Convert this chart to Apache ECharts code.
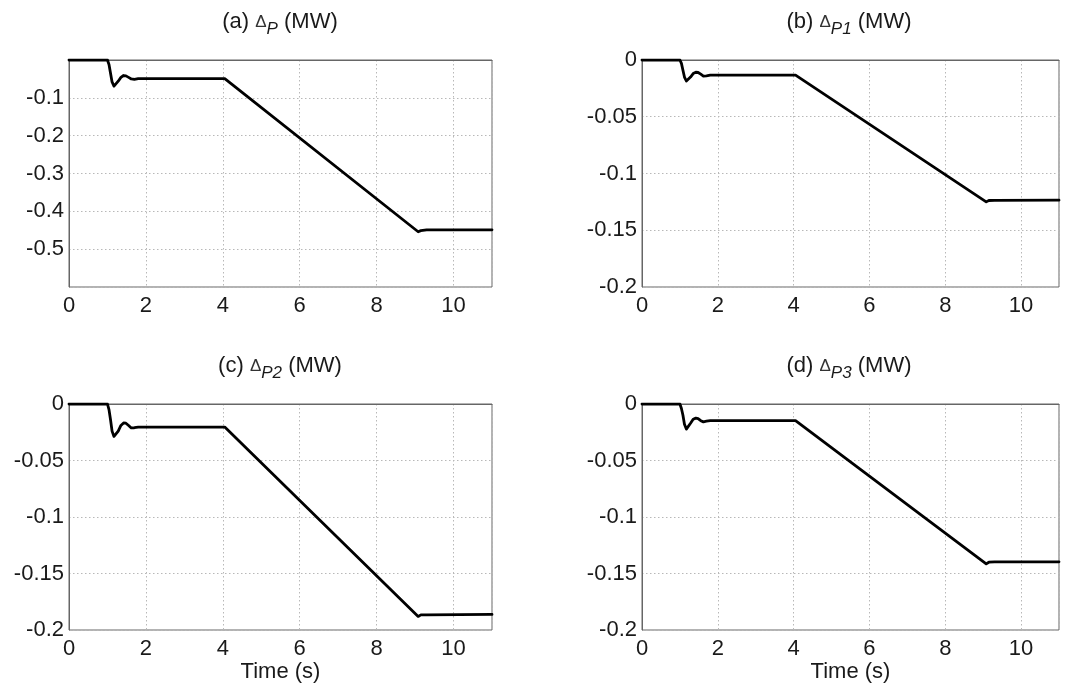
<!DOCTYPE html>
<html>
<head>
<meta charset="utf-8">
<script src="https://cdn.jsdelivr.net/npm/echarts@6/dist/echarts.min.js"></script>
<style>
html,body{margin:0;padding:0;background:#fff;}
#chart{width:1088px;height:691px;}
</style>
</head>
<body>
<div id="chart"></div>
<script>
// Time samples (s)
const timeS = [0, 1.0, 1.04, 1.08, 1.12, 1.17, 1.22, 1.28, 1.35, 1.42, 1.48, 1.55, 1.62, 1.7, 1.8, 2.0, 4.05, 9.08, 9.15, 9.3, 11];
// (a) ΔP (MW)
const deltaP  = [0, 0, -0.012, -0.035, -0.058, -0.069, -0.066, -0.056, -0.046, -0.041, -0.042, -0.046, -0.050, -0.051, -0.049, -0.049, -0.049, -0.454, -0.451, -0.449, -0.449];
// (b) ΔP1 (MW)
const deltaP1 = [0, 0, -0.003, -0.009, -0.015, -0.0185, -0.018, -0.015, -0.012, -0.0108, -0.011, -0.0125, -0.0142, -0.0140, -0.0134, -0.0133, -0.0133, -0.1250, -0.1238, -0.1236, -0.1235];
// (c) ΔP2 (MW)
const deltaP2 = [0, 0, -0.005, -0.014, -0.024, -0.0287, -0.028, -0.024, -0.019, -0.0168, -0.017, -0.019, -0.0212, -0.0210, -0.0205, -0.0204, -0.0204, -0.1880, -0.1866, -0.1866, -0.1862];
// (d) ΔP3 (MW)
const deltaP3 = [0, 0, -0.004, -0.010, -0.018, -0.0222, -0.021, -0.017, -0.0135, -0.0125, -0.013, -0.0148, -0.0158, -0.0152, -0.0148, -0.0148, -0.0148, -0.1415, -0.1400, -0.1398, -0.1397];

const panelLetters = ['a', 'b', 'c', 'd'];
const panelSubs = ['P', 'P1', 'P2', 'P3'];
const panelData = [deltaP, deltaP1, deltaP2, deltaP3];
const yMins = [-0.6, -0.2, -0.2, -0.2];
const yIntervals = [0.1, 0.05, 0.05, 0.05];
const xTicks = [0, 2, 4, 6, 8, 10];
const xLabelName = 'Time (s)';

const FONT = '"Liberation Sans", Arial, Helvetica, sans-serif';
const TXT = '#1a1a1a';
const AX = '#666';
const FS = 22;

const grids = [
  {left: 69, top: 60, width: 423, height: 227},
  {left: 642, top: 60, width: 417, height: 227},
  {left: 69, top: 404, width: 423, height: 226},
  {left: 642, top: 404, width: 417, height: 226}
];
const titlePos = [
  {left: 280, top: 6},
  {left: 849, top: 6},
  {left: 280, top: 350},
  {left: 849, top: 350}
];

const chart = echarts.init(document.getElementById('chart'), null, {renderer: 'canvas'});

const xAxes = [], yAxes = [], series = [], titles = [];
grids.forEach((g, i) => {
  const fmtY = (v) => {
    if (i === 0 && (Math.abs(v) < 1e-9 || Math.abs(v - yMins[0]) < 1e-9)) return '';
    return String(parseFloat(v.toFixed(4)));
  };
  xAxes.push({
    type: 'value', gridIndex: i, min: 0, max: 11, interval: 2,
    axisLine: {show: true, lineStyle: {color: AX, width: 1}},
    axisTick: {show: false},
    axisLabel: {show: true, color: TXT, fontFamily: FONT, fontSize: FS, margin: 8,
      showMaxLabel: false,
      formatter: (v) => xTicks.indexOf(v) >= 0 ? String(v) : ''},
    splitLine: {show: true, lineStyle: {color: '#b8b8b8', type: [1.5, 2.5], width: 1}},
    name: (i >= 2) ? xLabelName : '',
    nameLocation: 'middle', nameGap: 31,
    nameTextStyle: {color: TXT, fontFamily: FONT, fontSize: FS}
  });
  yAxes.push({
    type: 'value', gridIndex: i, min: yMins[i], max: 0, interval: yIntervals[i],
    axisLine: {show: true, lineStyle: {color: AX, width: 1}},
    axisTick: {show: false},
    axisLabel: {show: true, color: TXT, fontFamily: FONT, fontSize: FS, margin: 5, formatter: fmtY},
    splitLine: {show: true, lineStyle: {color: '#b8b8b8', type: [1.5, 2.5], width: 1}}
  });
  series.push({
    type: 'line', xAxisIndex: i, yAxisIndex: i,
    data: timeS.map((t, k) => [t, panelData[i][k]]),
    showSymbol: false, symbol: 'none', smooth: false,
    lineStyle: {color: '#000', width: 2.8, join: 'round', cap: 'round'},
    silent: true, animation: false
  });
  titles.push({
    left: titlePos[i].left, top: titlePos[i].top, textAlign: 'center', padding: 0,
    text: '(' + panelLetters[i] + ') {d|\u0394}{s|' + panelSubs[i] + '} (MW)',
    textStyle: {
      color: TXT, fontFamily: FONT, fontSize: FS, fontWeight: 'normal', lineHeight: 32,
      rich: {
        d: {fontFamily: FONT, fontSize: 17, color: '#333', lineHeight: 32},
        s: {fontFamily: FONT, fontSize: 17, fontStyle: 'italic', color: TXT, verticalAlign: 'bottom', lineHeight: 16}
      }
    }
  });
});

chart.setOption({
  animation: false,
  backgroundColor: '#fff',
  title: titles,
  grid: grids.map(g => Object.assign({show: true, borderColor: AX, borderWidth: 1, backgroundColor: '#fff', containLabel: false}, g)),
  xAxis: xAxes,
  yAxis: yAxes,
  series: series
});
</script>
</body>
</html>
